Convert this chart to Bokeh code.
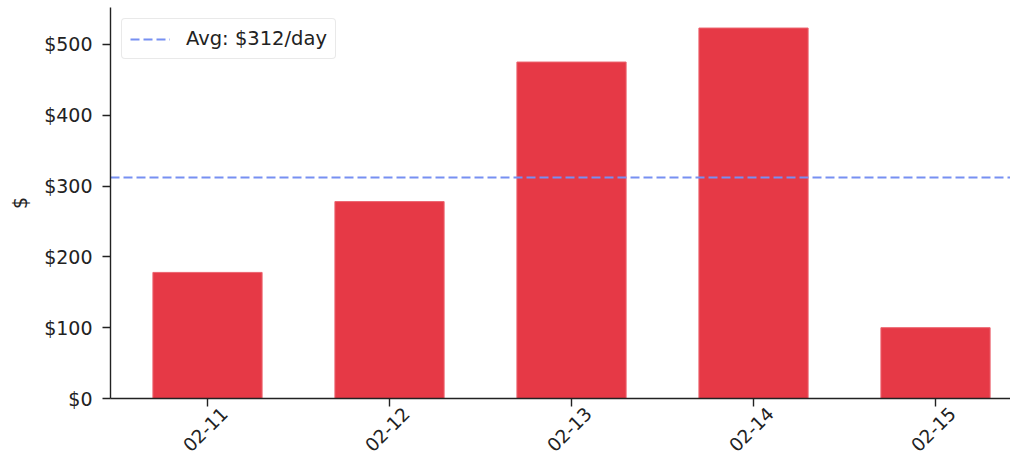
import math
from bokeh.plotting import figure
from bokeh.models import (Range1d, FixedTicker, ColumnDataSource, Legend, LegendItem,
                          LinearAxis)
from bokeh.embed import file_html
from bokeh.resources import INLINE

# ---- data ----
days = ["02-11", "02-12", "02-13", "02-14", "02-15"]
spend = [178, 278, 475, 523, 100]
avg_value = 312
avg_label = "Avg: $312/day"
y_ticks = [0, 100, 200, 300, 400, 500]
y_tick_labels = ["$0", "$100", "$200", "$300", "$400", "$500"]
y_label = "$"

FONT = "DejaVu Sans"
TXT = "#222222"
FS = "19px"

FRAME_H = 391
Y_MAX = 552
X_START, X_END = -0.533, 4.412
LABEL_SHIFT = 0.093  # rotated labels are anchored at their end; shift so they centre on ticks

xs = list(range(len(days)))
src = ColumnDataSource(dict(x=xs, top=spend))

p = figure(
    frame_width=900, frame_height=FRAME_H,
    x_range=Range1d(X_START, X_END), y_range=Range1d(0, Y_MAX),
    output_backend="svg", toolbar_location=None,
    min_border_left=110, min_border_right=0, min_border_top=7, min_border_bottom=40,
)
p.outline_line_color = None
p.grid.visible = False
p.background_fill_color = "white"

p.vbar(x="x", top="top", width=0.6, bottom=0, source=src,
       fill_color="#E63946", line_color="#EC6570", line_width=1)

avg_src = ColumnDataSource(dict(x=[X_START, X_END], y=[avg_value, avg_value]))
avg_line = p.line(x="x", y="y", source=avg_src, line_color="#7790F2",
                  line_width=1.8, line_dash="9 4")

legend = Legend(items=[LegendItem(label=avg_label, renderers=[avg_line])],
                location="top_left")
legend.label_text_font = FONT
legend.label_text_font_size = "19.5px"
legend.label_text_color = TXT
legend.border_line_color = "#d4d4d4"
legend.border_line_width = 1.5
legend.background_fill_alpha = 0.9
legend.margin = 11
legend.padding = 8
legend.glyph_width = 40
legend.label_standoff = 16
legend.spacing = 0
if "border_radius" in Legend.properties():
    legend.border_radius = 4
p.add_layout(legend)

for ax in (p.xaxis[0], p.yaxis[0]):
    ax.axis_line_color = "#222222"
    ax.axis_line_width = 1.4
    ax.major_tick_line_color = "#222222"
    ax.major_tick_line_width = 1.4
    ax.major_tick_out = 8
    ax.major_tick_in = 0
    ax.minor_tick_line_color = None
    ax.major_label_text_font = FONT
    ax.major_label_text_font_size = FS
    ax.major_label_text_color = TXT
    ax.major_label_standoff = 10

# main x axis: line and ticks only
p.xaxis.ticker = FixedTicker(ticks=xs)
p.xaxis.major_label_overrides = {i: "" for i in xs}
p.xaxis.major_label_text_font_size = "0px"
p.xaxis.major_label_standoff = 0

# second x axis: the rotated day labels, centred on the ticks above
p.extra_x_ranges = {"lab": Range1d(X_START - LABEL_SHIFT, X_END - LABEL_SHIFT)}
lab_axis = LinearAxis(x_range_name="lab", ticker=FixedTicker(ticks=xs),
                      major_label_overrides={i: d for i, d in enumerate(days)},
                      major_label_orientation=math.pi / 4,
                      axis_line_color=None, major_tick_line_color=None,
                      minor_tick_line_color=None, major_tick_out=0, major_tick_in=0,
                      major_label_standoff=4,
                      major_label_text_font=FONT, major_label_text_font_size="18.5px",
                      major_label_text_color=TXT)
p.add_layout(lab_axis, "below")

p.yaxis.ticker = FixedTicker(ticks=y_ticks)
p.yaxis.major_label_overrides = {t: l for t, l in zip(y_ticks, y_tick_labels)}
p.yaxis.axis_label = y_label
p.yaxis.axis_label_text_font = FONT
p.yaxis.axis_label_text_font_size = FS
p.yaxis.axis_label_text_font_style = "normal"
p.yaxis.axis_label_text_color = TXT
p.yaxis.axis_label_standoff = 10

open("out.html", "w").write(file_html(p, INLINE))
